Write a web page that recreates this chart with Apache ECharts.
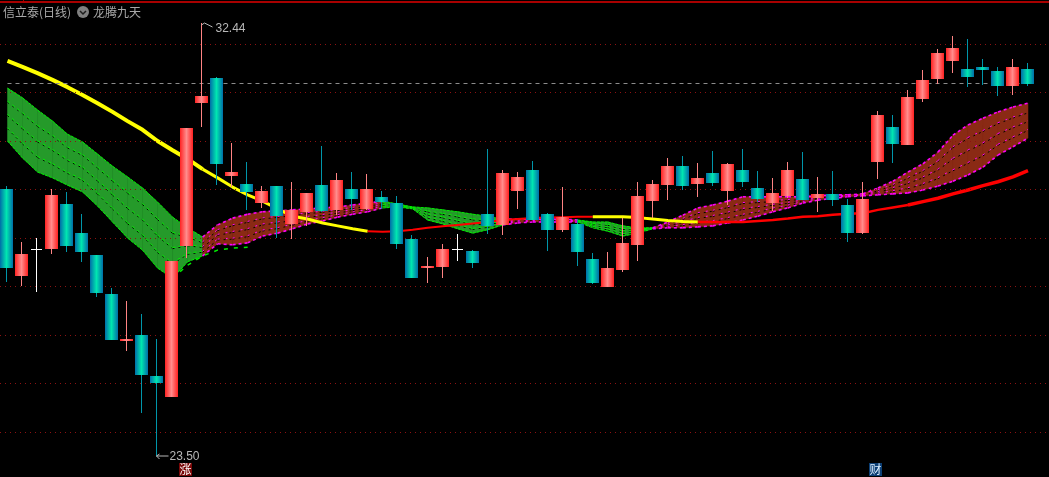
<!DOCTYPE html>
<html><head><meta charset="utf-8">
<style>html,body{margin:0;padding:0;background:#000;overflow:hidden}#c{width:1049px;height:477px}</style>
<script src="https://cdn.jsdelivr.net/npm/echarts@6/dist/echarts.min.js"></script>
</head><body><div id="c"></div>
<script>
var opens=[29.01,27.22,27.77,27.77,28.70,28.10,27.65,26.85,25.87,26.00,
25.15,24.72,27.83,30.78,31.30,29.28,29.11,28.72,29.07,28.29,
28.54,29.09,28.58,29.01,28.60,28.85,28.72,27.98,27.38,27.40,
27.77,27.73,28.49,28.27,28.97,29.40,28.49,28.17,28.29,27.57,
26.99,27.34,27.86,28.76,29.09,29.48,29.11,29.34,28.97,29.40,
29.03,28.72,28.87,29.22,28.82,28.91,28.68,28.10,29.57,30.29,
29.92,30.87,31.28,31.65,31.48,31.53,31.44,31.13,31.48];
var closes=[27.38,27.67,27.77,28.89,27.83,27.71,26.87,25.90,25.91,25.17,
25.01,27.53,30.27,30.93,29.53,29.36,28.95,28.97,28.45,28.58,
28.93,28.56,29.20,28.80,29.01,28.74,27.88,27.17,27.43,27.77,
27.77,27.48,28.25,29.34,29.26,28.37,28.17,28.43,27.71,27.07,
27.38,27.90,28.87,29.11,29.48,29.07,29.24,29.13,29.53,29.15,
28.80,28.93,29.40,28.78,28.91,28.78,28.10,28.80,30.54,29.94,
30.91,31.26,31.81,31.92,31.32,31.46,31.13,31.53,31.17];
var lows=[27.09,27.01,26.89,27.67,27.71,27.51,26.78,25.90,25.67,24.39,
23.50,24.72,27.59,30.29,29.09,29.05,28.58,28.62,28.00,27.98,
28.25,28.54,28.47,28.58,28.58,28.60,27.77,27.17,27.07,27.17,
27.53,27.38,28.08,28.06,28.60,28.37,27.73,28.12,27.42,27.05,
26.99,27.30,27.53,28.41,28.78,28.99,28.85,29.07,28.68,29.05,
28.74,28.56,28.82,28.78,28.54,28.66,27.92,28.08,29.22,29.55,
29.92,30.80,31.17,31.40,31.11,31.15,30.93,30.95,31.13];
var highs=[29.07,27.92,28.00,29.01,28.95,28.49,27.65,26.97,26.70,26.43,
25.92,27.53,30.27,32.44,31.32,29.96,29.57,29.07,29.07,29.15,
28.93,29.90,29.34,29.36,29.32,28.97,28.87,28.06,27.61,27.88,
28.08,27.75,29.83,29.40,29.36,29.59,28.51,29.05,28.39,27.69,
27.71,28.41,29.15,29.20,29.65,29.69,29.55,29.79,29.55,29.83,
29.38,29.24,29.57,29.77,29.26,29.38,28.80,29.15,30.62,30.54,
31.05,31.46,31.90,32.16,32.10,31.69,31.53,31.69,31.61];
var maLine=[31.65,31.53,31.40,31.26,31.11,30.95,30.78,30.60,30.41,30.23,
30.00,29.81,29.63,29.42,29.24,29.05,28.89,28.76,28.60,28.45,
28.39,28.31,28.25,28.19,28.14,28.13,28.14,28.17,28.21,28.24,
28.27,28.30,28.33,28.37,28.39,28.41,28.42,28.43,28.44,28.44,
28.44,28.44,28.42,28.39,28.36,28.34,28.33,28.33,28.33,28.33,
28.35,28.37,28.40,28.44,28.45,28.48,28.50,28.51,28.58,28.63,
28.68,28.75,28.82,28.91,28.99,29.08,29.16,29.26,29.39];
var bandUpper=[31.09,30.89,30.64,30.41,30.14,29.98,29.73,29.48,29.26,29.03,
28.74,28.43,28.21,28.02,28.27,28.41,28.49,28.54,28.56,28.58,
28.60,28.62,28.64,28.68,28.72,28.76,28.70,28.64,28.62,28.58,
28.54,28.49,28.45,28.39,28.39,28.39,28.39,28.39,28.37,28.33,
28.33,28.25,28.21,28.21,28.33,28.47,28.62,28.68,28.76,28.85,
28.85,28.85,28.85,28.85,28.87,28.89,28.89,28.91,29.03,29.17,
29.36,29.53,29.77,30.12,30.33,30.47,30.60,30.70,30.78];
var bandLower=[30.00,29.65,29.36,29.24,29.09,28.95,28.66,28.33,28.00,27.75,
27.38,27.17,27.51,27.63,27.88,27.86,27.90,28.04,28.10,28.19,
28.29,28.35,28.43,28.49,28.54,28.62,28.64,28.60,28.37,28.29,
28.19,28.10,28.17,28.27,28.31,28.33,28.33,28.33,28.33,28.21,
28.14,28.04,28.10,28.19,28.21,28.21,28.23,28.25,28.31,28.37,
28.45,28.54,28.62,28.72,28.78,28.82,28.85,28.87,28.89,28.91,
28.93,28.99,29.07,29.17,29.30,29.46,29.71,29.88,30.06];
var bandTail=[null,null,null,null,null,null,null,null,null,null,
null,27.17,27.44,27.63,27.75,27.79,27.81];
var dashedLevel=31.19;
var gridLevels=[24,25,26,27,28,29,30,31,32];
var priceRange={min:23.072,max:32.907};
var highNote={index:13,value:32.44,text:'32.44'};
var lowNote={index:10,value:23.50,text:'23.50'};
var flags=[{index:12,text:'涨',value:23.23,bg:'#7a0808',fg:'#ffffff'},{index:58,text:'财',value:23.23,bg:'#0c3f75',fg:'#dcefff'}];
var stockName='信立泰(日线)';
var indicatorName='龙腾九天';
var categories=opens.map(function(v,i){return String(i+1);});
var greenSpans=[[0,13],[25,33],[38,43]];

function isGreen(i){return greenSpans.some(function(s){return i>=s[0]&&i<s[1];});}
function seg(a,b){return maLine.map(function(v,i){return i>=a&&i<=b?v:null;});}
function maSeries(a,b,color,width){return {type:'line',data:seg(a,b),showSymbol:false,silent:true,z:3,animation:false,connectNulls:false,lineStyle:{color:color,width:width}};}

var chart=echarts.init(document.getElementById('c'),null,{renderer:'canvas'});

function bandItem(params,api){
  var i=api.value(0);
  var a=api.coord([i,api.value(1)]),b=api.coord([i,api.value(2)]);
  var c=api.coord([i+1,api.value(3)]),d=api.coord([i+1,api.value(4)]);
  var g=isGreen(i),fill=g?'#259a2a':'#8a2a14',edge=g?'#00f000':'#ff00ff';
  var kids=[{type:'polygon',shape:{points:[a,c,d,b]},style:{fill:fill,stroke:fill,lineWidth:0.5}}];
  [0,0.25,0.5,0.75,1].forEach(function(k){
    var p=[a[0],a[1]+(b[1]-a[1])*k],q=[c[0],c[1]+(d[1]-c[1])*k];
    var outer=(k===0||k===1);
    if(!outer){kids.push({type:'line',shape:{x1:p[0],y1:p[1]+1,x2:q[0],y2:q[1]+1},style:{stroke:'#000',lineWidth:1,lineDash:[2,4]}});}
    kids.push({type:'line',shape:{x1:p[0],y1:p[1],x2:q[0],y2:q[1]},style:{stroke:edge,lineWidth:g?1:(outer?1.6:1),lineDash:g?(outer?[3,1]:[3,3]):(outer?[3,3]:[2,6])}});
  });
  return {type:'group',children:kids};
}
function candleItem(params,api){
  var i=api.value(0),o=api.value(1),c=api.value(2),l=api.value(3),h=api.value(4);
  var top=api.coord([i,Math.max(o,c)]),bot=api.coord([i,Math.min(o,c)]);
  var lo=api.coord([i,l]),hi=api.coord([i,h]);
  var cx=top[0],bw=13,left=Math.round(cx-7.2),wx=left+6;
  var flat=o===c;
  var up=c>o;
  var wick=flat?'#ffffff':(up?'#ff8484':'#0096aa');
  var kids=[{type:'rect',shape:{x:wx,y:Math.round(hi[1]),width:1,height:Math.round(lo[1])-Math.round(hi[1])},style:{fill:wick}}];
  if(flat){
    kids.push({type:'rect',shape:{x:left+1,y:Math.round(top[1]),width:bw-2,height:1},style:{fill:'#ffffff'}});
  }else{
    var grad=up?new echarts.graphic.LinearGradient(0,0,1,0,[{offset:0,color:'#ff2323'},{offset:0.5,color:'#ff8c8c'},{offset:1,color:'#ff2020'}])
               :new echarts.graphic.LinearGradient(0,0,1,0,[{offset:0,color:'#006ea8'},{offset:0.5,color:'#00e6b0'},{offset:1,color:'#006ea8'}]);
    var t=Math.round(top[1]),b=Math.round(bot[1]);
    kids.push({type:'rect',shape:{x:left,y:t,width:bw,height:Math.max(1,b-t)},style:{fill:grad}});
  }
  return {type:'group',children:kids};
}
function noteItem(params,api){
  var i=api.value(0),p=api.coord([i,api.value(1)]),isHigh=api.value(1)===highNote.value;
  var wx=Math.round(p[0]-7.2)+6.5,y=Math.round(p[1]);
  var col='#b8b8b8';
  if(isHigh){
    return {type:'group',children:[
      {type:'polyline',shape:{points:[[wx,y+2],[wx+3,y],[wx+11,y+4]]},style:{fill:'none',stroke:col,lineWidth:1}},
      {type:'text',style:{x:wx+14,y:y+6,text:highNote.text,fill:col,font:'12px "Liberation Sans"',textVerticalAlign:'middle'}}
    ]};
  }
  return {type:'group',children:[
    {type:'line',shape:{x1:wx,y1:y,x2:wx+12,y2:y},style:{stroke:col,lineWidth:1}},
    {type:'polyline',shape:{points:[[wx+3,y-2],[wx,y],[wx+3,y+3]]},style:{fill:'none',stroke:col,lineWidth:1}},
    {type:'text',style:{x:wx+13,y:y+1,text:lowNote.text,fill:col,font:'12px "Liberation Sans"',textVerticalAlign:'middle'}}
  ]};
}
function flagItem(params,api){
  var f=flags[params.dataIndex],p=api.coord([f.index,f.value]);
  var x=Math.floor(p[0]-8.5),y=Math.round(p[1]-6.5);
  return {type:'group',children:[
    {type:'rect',shape:{x:x,y:y,width:13,height:13},style:{fill:f.bg}},
    {type:'text',style:{x:x+6.5,y:y+6.5,text:f.text,fill:f.fg,font:'12px "Noto Sans CJK SC"',textAlign:'center',textVerticalAlign:'middle'}}
  ]};
}

var bandData=[];
for(var i=0;i<bandUpper.length-1;i++)bandData.push([i,bandUpper[i],bandLower[i],bandUpper[i+1],bandLower[i+1]]);
var candleData=opens.map(function(o,i){return [i,o,closes[i],lows[i],highs[i]];});
function yAxisOf(idx){return {type:'value',gridIndex:idx,min:priceRange.min,max:priceRange.max,
    axisLine:{show:false},axisTick:{show:false},axisLabel:{show:false},splitLine:{show:false}};}

chart.setOption({
  backgroundColor:'#000',animation:false,
  grid:[{left:0,top:0,width:1035.5,height:477,show:false},{left:0,right:0,top:0,bottom:0,show:false}],
  xAxis:[{type:'category',gridIndex:0,data:categories,boundaryGap:true,show:false},
         {type:'value',gridIndex:1,min:0,max:1,show:false}],
  yAxis:[yAxisOf(0),yAxisOf(1)],
  series:[
    {type:'line',xAxisIndex:1,yAxisIndex:1,data:[],silent:true,z:1,
     markLine:{silent:true,symbol:'none',label:{show:false},lineStyle:{color:'#8c1212',type:[1,4],width:1},
       data:gridLevels.map(function(v){return {yAxis:v};})}},
    {type:'custom',renderItem:bandItem,data:bandData,encode:{x:0,y:1},z:2,clip:false,silent:true},
    {type:'line',data:bandTail,showSymbol:false,silent:true,z:2,lineStyle:{color:'#00f000',width:1.5,type:[4,6]},
     markLine:{silent:true,symbol:'none',label:{show:false},lineStyle:{color:'#8c8c8c',type:[4,4],width:1},data:[[{coord:[0,dashedLevel]},{coord:[68,dashedLevel]}]]}},
    maSeries(0,13,'#ffff00',4),
    maSeries(13,24,'#ffff00',3),
    maSeries(24,39,'#ff0000',2),
    maSeries(39,46,'#ffff00',3),
    maSeries(46,60,'#ff0000',2.5),
    maSeries(60,68,'#ff0000',3.5),
    {type:'custom',renderItem:candleItem,data:candleData,encode:{x:0,y:[1,2,3,4]},z:5,silent:true},
    {type:'custom',renderItem:noteItem,data:[[highNote.index,highNote.value],[lowNote.index,lowNote.value]],encode:{x:0,y:1},z:6,silent:true},
    {type:'custom',renderItem:flagItem,data:flags.map(function(f){return [f.index,f.value];}),encode:{x:0,y:1},z:6,silent:true}
  ],
  graphic:[
    {type:'rect',z:10,shape:{x:0,y:1,width:1049,height:2},style:{fill:'#a80000'}},
    {type:'rect',z:10,shape:{x:23,y:0,width:1,height:2},style:{fill:'#a80000'}},
    {type:'text',z:10,left:3,top:6,style:{text:stockName,fill:'#a8a8a8',font:'12px "Noto Sans CJK SC"'}},
    {type:'circle',z:10,shape:{cx:83,cy:12,r:6},style:{fill:'#808080'}},
    {type:'polyline',z:11,shape:{points:[[80,11],[83,14],[86,11]]},style:{fill:'none',stroke:'#1c1c1c',lineWidth:1.5}},
    {type:'text',z:10,left:93,top:6,style:{text:indicatorName,fill:'#a8a8a8',font:'12px "Noto Sans CJK SC"'}}
  ]
});
</script></body></html>
